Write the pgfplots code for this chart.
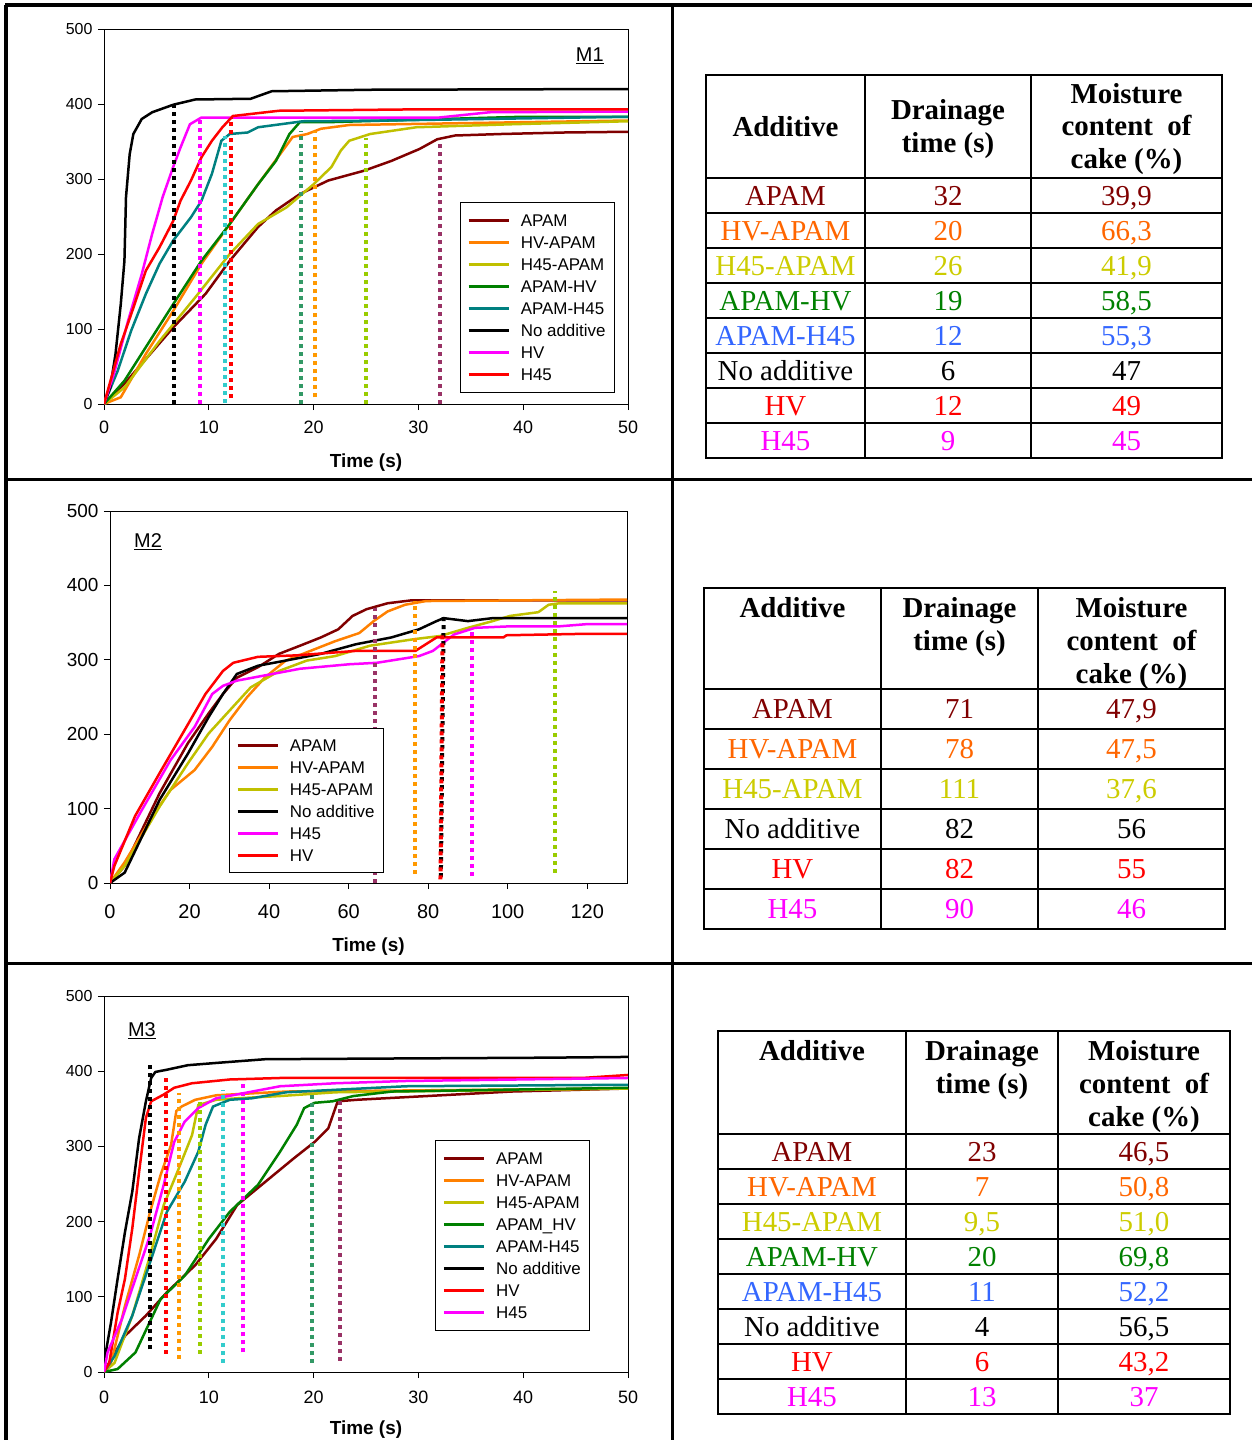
\documentclass[border=0pt]{standalone}
\usepackage{pgfplots}
\pgfplotsset{compat=1.18}
\usepackage{fontspec}
\setmainfont{Liberation Serif}
\setsansfont{Liberation Sans}
\definecolor{cAPAM}{HTML}{800000}
\definecolor{cHVAPAM}{HTML}{FF8000}
\definecolor{cH45APAM}{HTML}{C0C000}
\definecolor{cAPAMHV}{HTML}{008000}
\definecolor{cAPAMH45}{HTML}{008080}
\definecolor{cMag}{HTML}{FF00FF}
\definecolor{cRed}{HTML}{FF0000}
\definecolor{dCyan}{HTML}{33CCCC}
\definecolor{dSea}{HTML}{339966}
\definecolor{dOrange}{HTML}{FF9900}
\definecolor{dYG}{HTML}{99CC00}
\definecolor{dPlum}{HTML}{993366}
\definecolor{tOrange}{HTML}{FF6600}
\definecolor{tYellow}{HTML}{CCCC00}
\definecolor{tBlue}{HTML}{3366FF}
\pgfplotsset{
 base/.style={scale only axis, anchor=south west, ymin=0, ymax=500, ytick={0,100,200,300,400,500},
  axis line style={black,line width=1bp}, tick style={black,line width=1bp},
  major tick length=6bp, tick align=outside, xtick pos=bottom, ytick pos=left,
  /pgf/number format/assume math mode=true,
  yticklabel style={font=\sffamily\fontsize{16}{18}\selectfont, xshift=-2bp},
  xticklabel style={font=\sffamily\fontsize{18}{20}\selectfont, yshift=-7bp},
  legend cell align=left,
  legend image code/.code={\draw[##1,line width=2.5bp] (0bp,0bp) -- (40bp,0bp); \path (49bp,0bp);},
  legend style={anchor=north west, draw=black, line width=1bp, fill=white,
    font=\sffamily\fontsize{17}{19}\selectfont, inner xsep=7bp, inner ysep=9bp, row sep=6bp,
    nodes={inner sep=2bp, text height=12bp, text depth=0bp}},
 },
 every axis plot/.append style={line width=2.5bp},
 dot/.style={line width=4bp, dash pattern=on 4bp off 4bp, forget plot},
}
\newcommand\trow[8]{%
 \node[tcell,text=#5] at (#1,#4) {#6};
 \node[tcell,text=#5] at (#2,#4) {#7};
 \node[tcell,text=#5] at (#3,#4) {#8};}
\tikzset{tcell/.style={font=\fontsize{29}{33}\selectfont, inner sep=0pt, text height=19bp, text depth=0bp, anchor=center},
 thead/.style={font=\bfseries\fontsize{29}{33}\selectfont, inner sep=0pt, align=center}}
\begin{document}
\begin{tikzpicture}
\useasboundingbox (0,0) rectangle (1252bp,-1440bp);
\begin{scope}[x=1bp,y=-1bp]
% frame
\draw[line width=3bp] (5,5) -- (1252,5);
\draw[line width=3bp] (6,5) -- (6,1440);
\draw[line width=3bp] (672,5) -- (672,1440);
\draw[line width=3bp] (6,479) -- (1252,479);
\draw[line width=3bp] (6,963) -- (1252,963);
% table 1
\draw[line width=2bp] (706,75) rectangle (1222,458);
\draw[line width=2bp] (865,75) -- (865,458) (1031,75) -- (1031,458);
\foreach \y in {178,213,248,283,318,353,388,423} \draw[line width=2bp] (706,\y) -- (1222,\y);
\node[thead] at (785.5,126.5) {Additive};
\node[thead] at (948,129) {Drainage\\time (s)};
\node[thead] at (1126.5,129) {Moisture\\content~ of\\cake (\%)};
\trow{785.5}{948}{1126.5}{195.5}{cAPAM}{APAM}{32}{39,9}
\trow{785.5}{948}{1126.5}{230.5}{tOrange}{HV-APAM}{20}{66,3}
\trow{785.5}{948}{1126.5}{265.5}{tYellow}{H45-APAM}{26}{41,9}
\trow{785.5}{948}{1126.5}{300.5}{cAPAMHV}{APAM-HV}{19}{58,5}
\trow{785.5}{948}{1126.5}{335.5}{tBlue}{APAM-H45}{12}{55,3}
\trow{785.5}{948}{1126.5}{370.5}{black}{No additive}{6}{47}
\trow{785.5}{948}{1126.5}{405.5}{cRed}{HV}{12}{49}
\trow{785.5}{948}{1126.5}{440.5}{cMag}{H45}{9}{45}
% table 2
\draw[line width=2bp] (704,588) rectangle (1225,929);
\draw[line width=2bp] (881,588) -- (881,929) (1038,588) -- (1038,929);
\foreach \y in {689,729,769,809,849,889} \draw[line width=2bp] (704,\y) -- (1225,\y);
\node[thead,anchor=north] at (792.5,597) {Additive};
\node[thead,anchor=north] at (959.5,597) {Drainage\\time (s)};
\node[thead,anchor=north] at (1131.5,597) {Moisture\\content~ of\\cake (\%)};
\trow{792.5}{959.5}{1131.5}{709}{cAPAM}{APAM}{71}{47,9}
\trow{792.5}{959.5}{1131.5}{749}{tOrange}{HV-APAM}{78}{47,5}
\trow{792.5}{959.5}{1131.5}{789}{tYellow}{H45-APAM}{111}{37,6}
\trow{792.5}{959.5}{1131.5}{829}{black}{No additive}{82}{56}
\trow{792.5}{959.5}{1131.5}{869}{cRed}{HV}{82}{55}
\trow{792.5}{959.5}{1131.5}{909}{cMag}{H45}{90}{46}
% table 3
\draw[line width=2bp] (718,1031) rectangle (1230,1414);
\draw[line width=2bp] (906,1031) -- (906,1414) (1058,1031) -- (1058,1414);
\foreach \y in {1134,1169,1204,1239,1274,1309,1344,1379} \draw[line width=2bp] (718,\y) -- (1230,\y);
\node[thead,anchor=north] at (812,1040) {Additive};
\node[thead,anchor=north] at (982,1040) {Drainage\\time (s)};
\node[thead,anchor=north] at (1144,1040) {Moisture\\content~ of\\cake (\%)};
\trow{812}{982}{1144}{1151.5}{cAPAM}{APAM}{23}{46,5}
\trow{812}{982}{1144}{1186.5}{tOrange}{HV-APAM}{7}{50,8}
\trow{812}{982}{1144}{1221.5}{tYellow}{H45-APAM}{9,5}{51,0}
\trow{812}{982}{1144}{1256.5}{cAPAMHV}{APAM-HV}{20}{69,8}
\trow{812}{982}{1144}{1291.5}{tBlue}{APAM-H45}{11}{52,2}
\trow{812}{982}{1144}{1326.5}{black}{No additive}{4}{56,5}
\trow{812}{982}{1144}{1361.5}{cRed}{HV}{6}{43,2}
\trow{812}{982}{1144}{1396.5}{cMag}{H45}{13}{37}
\end{scope}

% ---------------- Chart M1 ----------------
\begin{axis}[base, at={(104bp,-404bp)}, width=524bp, height=375bp,
  xmin=0, xmax=50, xtick={0,10,20,30,40,50},
  xlabel={Time (s)}, xlabel style={font=\sffamily\bfseries\fontsize{19}{22}\selectfont, at={(axis description cs:0.5,-0.157)}, anchor=center},
  legend style={at={(0.679,0.539)}, inner ysep=10bp}]
\addplot[cAPAM] coordinates {(0,0) (1.95,27) (6.6,102) (9.7,147) (12,191) (14.7,236) (16.4,258) (18.7,280) (21.4,298) (24.8,311) (27.4,324) (30.1,340) (31.8,353) (33.5,358) (37.9,360) (43.9,362) (50,363)};
\addplot[cHVAPAM] coordinates {(0,0) (1.6,9) (4,67) (6.6,124) (9.3,187) (12,240) (14.7,293) (16.8,333) (18,356) (19.4,360) (20.7,367) (23.4,372) (50,378)};
\addplot[cH45APAM] coordinates {(0,0) (1.95,22) (5.3,84) (8.7,142) (12,200) (14.7,240) (17.4,262) (20,293) (21.7,316) (22.6,338) (23.4,351) (25.4,360) (29.8,369) (38.9,373) (50,377)};
\addplot[cAPAMHV] coordinates {(0,0) (1.95,31) (4,76) (6.6,133) (9.3,191) (12,240) (14.7,293) (16.4,324) (17.7,360) (18.7,376) (22,376) (40,383) (50,383)};
\addplot[cAPAMH45] coordinates {(0,0) (1.3,44) (2.6,98) (4,147) (5.3,187) (6.6,218) (8.3,249) (9.3,271) (10.3,307) (11.2,351) (12,360) (13.7,362) (14.7,369) (19,377) (27,378) (50,383)};
\addplot[black] coordinates {(0,0) (0.6,22) (1.1,67) (1.6,133) (1.95,191) (2.1,276) (2.45,333) (2.8,360) (3.6,380) (4.6,389) (6.6,399) (8.7,406) (14,407) (16,417) (25.4,419) (50,420)};
\addplot[cMag] coordinates {(0,0) (0.94,40) (2.3,111) (3.6,173) (4.6,227) (5.6,276) (6.6,316) (7.3,342) (8.2,373) (9.3,382) (32,382) (36.8,389) (50,390)};
\addplot[cRed] coordinates {(0,0) (1.6,80) (2.6,120) (4,178) (5.3,209) (6.6,244) (7.3,271) (8.3,298) (9.3,329) (10.3,351) (11.3,369) (12.3,384) (16.7,391) (30.8,393) (50,393)};
\legend{APAM,HV-APAM,H45-APAM,APAM-HV,APAM-H45,No additive,HV,H45}
\addplot[dot,black] coordinates {(6.7,0) (6.7,400)};
\addplot[dot,cMag] coordinates {(9.2,0) (9.2,382)};
\addplot[dot,dCyan] coordinates {(11.5,2) (11.5,358)};
\addplot[dot,cRed] coordinates {(12.1,8) (12.1,382)};
\addplot[dot,dSea] coordinates {(18.8,0) (18.8,364)};
\addplot[dot,dOrange] coordinates {(20.1,9) (20.1,364)};
\addplot[dot,dYG] coordinates {(25,0) (25,355)};
\addplot[dot,dPlum] coordinates {(32.1,0) (32.1,351)};
\node[font=\sffamily\fontsize{20}{22}\selectfont] at (rel axis cs:0.927,0.928) {\underline{M1}};
\end{axis}

% ---------------- Chart M2 ----------------
\begin{axis}[base, at={(110bp,-883bp)}, width=517bp, height=372bp,
  xmin=0, xmax=130, xtick={0,20,40,60,80,100,120},
  yticklabel style={font=\sffamily\fontsize{19}{21}\selectfont},
  xticklabel style={font=\sffamily\fontsize{20}{22}\selectfont, yshift=-5bp},
  xlabel={Time (s)}, xlabel style={font=\sffamily\bfseries\fontsize{19}{22}\selectfont, at={(axis description cs:0.5,-0.172)}, anchor=center},
  legend style={at={(0.230,0.417)}, inner ysep=9bp, row sep=6bp}]
\addplot[cAPAM] coordinates {(0,0) (3.7,23) (12.5,121) (19.6,188) (24.8,228) (28.4,254) (31.9,276) (37.2,290) (42.5,308) (47.8,319) (53,330) (57.4,341) (61,359) (64.5,368) (69.8,376) (75.9,380) (130,380)};
\addplot[cHVAPAM] coordinates {(0,0) (3.7,28) (10.7,90) (15.2,125) (21.3,152) (25.7,183) (30.1,219) (34.5,250) (38.9,276) (44.2,299) (50.4,312) (56.6,325) (62.7,336) (66.3,352) (69.8,365) (74.2,374) (79.5,379) (130,381)};
\addplot[cH45APAM] coordinates {(0,0) (3.7,23) (12.5,103) (19.6,161) (24.8,201) (30.1,232) (35.4,263) (42.5,285) (49.5,299) (56.6,305) (65.4,319) (76.8,328) (83,332) (90,343) (96.2,352) (100.6,359) (107.7,364) (110.3,374) (113,376) (130,376)};
\addplot[black] coordinates {(0,0) (3.7,14) (12.5,112) (19.6,174) (24.8,223) (28.4,254) (31.9,281) (37.2,292) (44.2,299) (53,308) (61.9,321) (70.7,330) (77.7,341) (82.1,352) (83.9,356) (90,352) (96.2,356) (130,356)};
\addplot[cMag] coordinates {(0,0) (1.1,32) (8.1,99) (15.2,165) (21.3,210) (25.7,254) (28.4,265) (31.9,272) (38.9,279) (47.8,288) (60.1,294) (67.1,296) (77.7,305) (81.2,312) (86.5,334) (91.8,343) (100.6,345) (113,345) (120,348) (130,348)};
\addplot[cRed] coordinates {(0,0) (1.1,23) (6.3,90) (12.5,148) (18.7,205) (24,254) (28.4,285) (31,296) (37.2,304) (46.9,306) (61.9,312) (76.8,312) (82.1,330) (98.9,330) (99.7,333) (120,335) (130,335)};
\legend{APAM,HV-APAM,H45-APAM,No additive,H45,HV}
\addplot[dot,dPlum] coordinates {(66.7,0) (66.7,370)};
\addplot[dot,dOrange] coordinates {(76.8,12) (76.8,379)};
\addplot[dot,black] coordinates {(83.2,8) (83.9,361)};
\addplot[dot,cRed] coordinates {(83.1,5) (83.6,334)};
\addplot[dot,cMag] coordinates {(91.1,10) (91.1,343)};
\addplot[dot,dYG] coordinates {(112,14) (112,392)};
\node[font=\sffamily\fontsize{20}{22}\selectfont] at (rel axis cs:0.0735,0.917) {\underline{M2}};
\end{axis}

% ---------------- Chart M3 ----------------
\begin{axis}[base, at={(104bp,-1372bp)}, width=524bp, height=376bp,
  xmin=0, xmax=50, xtick={0,10,20,30,40,50},
  xticklabel style={yshift=-2bp},
  xlabel={Time (s)}, xlabel style={font=\sffamily\bfseries\fontsize{19}{22}\selectfont, at={(axis description cs:0.5,-0.154)}, anchor=center},
  legend style={at={(0.632,0.617)}, inner ysep=10bp}]
\addplot[cAPAM] coordinates {(0,0) (0.67,17) (2,48) (4,75) (6,106) (8.7,142) (10.7,177) (12.7,222) (15.4,253) (18.1,284) (20.1,306) (21.4,324) (22.3,360) (24.1,362) (38.9,373) (50,377)};
\addplot[cHVAPAM] coordinates {(0,0) (0.67,12) (2,88) (3.35,155) (4.4,213) (5.4,262) (6.4,302) (6.9,347) (7.4,353) (8.7,362) (10.7,368) (17.4,373) (50,377)};
\addplot[cH45APAM] coordinates {(0,0) (1,12) (2.7,75) (4.4,155) (5.7,222) (7,266) (8.4,315) (9,355) (10.7,362) (12.7,364) (16.8,367) (22.1,372) (50,377)};
\addplot[cAPAMHV] coordinates {(0,0) (1.3,4) (3,26) (5.4,97) (7.7,128) (10,177) (12,213) (14.7,249) (16.8,293) (18.4,329) (19.1,351) (20.1,358) (21.8,360) (23.8,367) (27.5,373) (50,378)};
\addplot[cAPAMH45] coordinates {(0,0) (1,21) (2.7,75) (4.4,146) (6,213) (7.7,253) (9,293) (9.7,329) (10.4,353) (12,362) (14.1,364) (17.4,372) (28.8,380) (50,382)};
\addplot[black] coordinates {(0,0) (0.17,26) (0.67,66) (1.3,124) (2,186) (2.7,240) (3.35,311) (4,360) (4.5,391) (4.9,399) (6,402) (8,408) (10.7,411) (15.4,416) (42.2,418) (50,419)};
\addplot[cRed] coordinates {(0,0) (0.5,12) (1.3,79) (2,124) (2.7,191) (3.35,266) (4,338) (4.5,360) (5.7,369) (6.7,378) (8.4,384) (12,389) (16.8,391) (45.6,391) (50,395)};
\addplot[cMag] coordinates {(0,0) (0.34,26) (1.7,70) (3,124) (4.4,182) (5.7,249) (6.7,306) (7.7,333) (9,351) (10.7,364) (13.4,371) (16.8,380) (22.1,384) (28.8,387) (50,391)};
\legend{APAM,HV-APAM,H45-APAM,APAM\_HV,APAM-H45,No additive,HV,H45}
\addplot[dot,black] coordinates {(4.4,30) (4.4,409)};
\addplot[dot,cRed] coordinates {(5.9,24) (5.9,393)};
\addplot[dot,dOrange] coordinates {(7.2,17) (7.2,371)};
\addplot[dot,dYG] coordinates {(9.2,24) (9.2,360)};
\addplot[dot,dCyan] coordinates {(11.4,12) (11.4,375)};
\addplot[dot,cMag] coordinates {(13.3,26) (13.3,384)};
\addplot[dot,dSea] coordinates {(19.8,12) (19.8,375)};
\addplot[dot,dPlum] coordinates {(22.5,15) (22.5,364)};
\node[font=\sffamily\fontsize{20}{22}\selectfont] at (rel axis cs:0.0725,0.907) {\underline{M3}};
\end{axis}
\end{tikzpicture}
\end{document}
